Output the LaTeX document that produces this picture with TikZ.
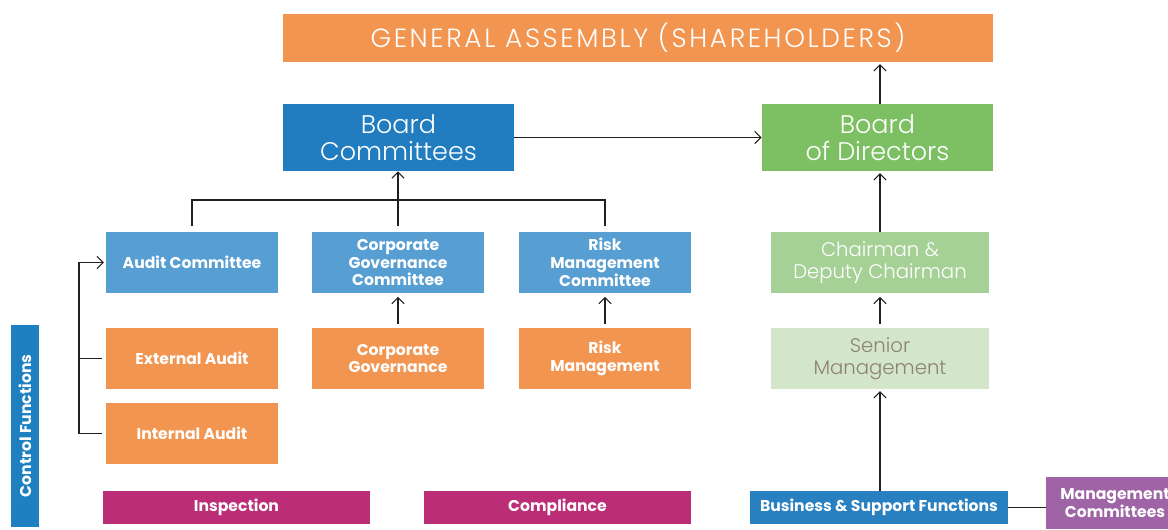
\documentclass[tikz,border=0pt]{standalone}
\usepackage{fontspec}
\setmainfont{Poppins}
\newfontfamily\lightfont{Poppins Light}
\usetikzlibrary{calc}
\usetikzlibrary {arrows.meta}
\tikzset{>={Straight Barb[length=3.5pt,width=7pt]}}

\definecolor{assembly}{HTML}{F29550}
\definecolor{boardblue}{HTML}{217DC0}
\definecolor{boardgreen}{HTML}{7DC064}
\definecolor{commblue}{HTML}{579FD3}
\definecolor{chairgreen}{HTML}{A6D196}
\definecolor{seniorgreen}{HTML}{D4E6CA}
\definecolor{seniortext}{HTML}{8B8276}
\definecolor{ctrlblue}{HTML}{1E80C1}
\definecolor{inspect}{HTML}{BB2D77}
\definecolor{bizblue}{HTML}{2980C0}
\definecolor{mgmtpurple}{HTML}{9E64A6}
\definecolor{wire}{HTML}{231F20}

\tikzset{
  box/.style={inner sep=0pt, align=center, text=white},
  bigbox/.style={box, minimum width=4.62cm, minimum height=1.34cm,
                 font=\lightfont\fontsize{14.5}{15.5}\selectfont},
  unitbox/.style={box, minimum width=3.44cm, minimum height=1.22cm,
                  font=\bfseries\fontsize{8.9}{10.2}\selectfont},
  chairbox/.style={box, minimum width=4.36cm, minimum height=1.22cm,
                   font=\lightfont\fontsize{11.2}{12.3}\selectfont},
  barbox/.style={box, minimum height=0.66cm, font=\bfseries\fontsize{8.9}{10}\selectfont},
  link/.style={draw=wire, line width=0.6pt},
}

\begin{document}
\begin{tikzpicture}[x=0.02cm, y=-0.02cm]
\useasboundingbox (0,0) rectangle (1168,529);

% top level
\node (assembly) at (638,38) [box, fill=assembly, minimum width=14.2cm, minimum height=0.96cm,
      font=\lightfont\fontsize{15}{16}\selectfont\addfontfeature{LetterSpace=10}] {GENERAL ASSEMBLY (SHAREHOLDERS)};
\node (committees) at (398.5,137.5) [bigbox, fill=boardblue] {Board\\Committees};
\node (directors) at (877.5,137.5) [bigbox, fill=boardgreen] {Board\\of Directors};

% committees and their functions
\node (audit) at (192,262.5) [unitbox, fill=commblue] {Audit Committee};
\node (govcomm) at (398,262.5) [unitbox, fill=commblue] {Corporate\\Governance\\Committee};
\node (riskcomm) at (605,262.5) [unitbox, fill=commblue] {Risk\\Management\\Committee};
\node (external) at (192,358.5) [unitbox, fill=assembly] {External Audit};
\node (internal) at (192,433.5) [unitbox, fill=assembly] {Internal Audit};
\node (gov) at (398,358.5) [unitbox, fill=assembly] {Corporate\\Governance};
\node (risk) at (605,358.5) [unitbox, fill=assembly] {Risk\\Management};

% executive side
\node (chair) at (880,262.5) [chairbox, fill=chairgreen] {Chairman \&\\Deputy Chairman};
\node (senior) at (880,358.5) [chairbox, fill=seniorgreen, text=seniortext] {Senior\\Management};

% bottom row
\node (control) at (25,426) [box, fill=ctrlblue, rotate=90, minimum width=4.04cm, minimum height=0.56cm,
      font=\bfseries\fontsize{8.9}{10}\selectfont] {Control Functions};
\node (inspection) at (236.5,507.5) [barbox, fill=inspect, minimum width=5.34cm] {Inspection};
\node (compliance) at (557.5,507.5) [barbox, fill=inspect, minimum width=5.34cm] {Compliance};
\node (business) at (879,507.5) [barbox, fill=bizblue, minimum width=5.16cm] {Business \& Support Functions};
\node (mgmt) at (1115,503) [barbox, fill=mgmtpurple, minimum width=2.76cm, minimum height=1.04cm] {Management\\Committees};

\coordinate (split) at (398,200);
\coordinate (feed) at (79,433.5);

\draw [link, ->] (committees) -- (directors);
\draw [link, ->, shorten >=1pt] (directors.north -| chair) -- (assembly.south -| chair);
\draw [link, ->, shorten >=1pt] (chair.north) -- (directors.south -| chair);
\draw [link, ->, shorten <=2pt, shorten >=2pt] (senior.north) -- (chair.south);
\draw [link, ->, shorten >=1pt] (business.north -| senior) -- (senior.south);
\draw [link] (business.east) -- (business.east -| mgmt.west);

\draw [link, shorten <=3pt] (audit.north) |- (split);
\draw [link, shorten <=3pt] (riskcomm.north) |- (split);
\draw [link, ->, shorten <=3pt] (govcomm.north) -- (committees.south -| govcomm);
\draw [link, ->, shorten <=2pt, shorten >=2pt] (gov.north) -- (govcomm.south);
\draw [link, ->, shorten <=2pt, shorten >=2pt] (risk.north) -- (riskcomm.south);

\draw [link, ->, shorten >=1pt] (feed) |- (audit.west);
\draw [link, shorten >=2pt] (feed) -- (internal.west);
\draw [link, shorten >=2pt] (external.west -| feed) -- (external.west);
\end{tikzpicture}
\end{document}
